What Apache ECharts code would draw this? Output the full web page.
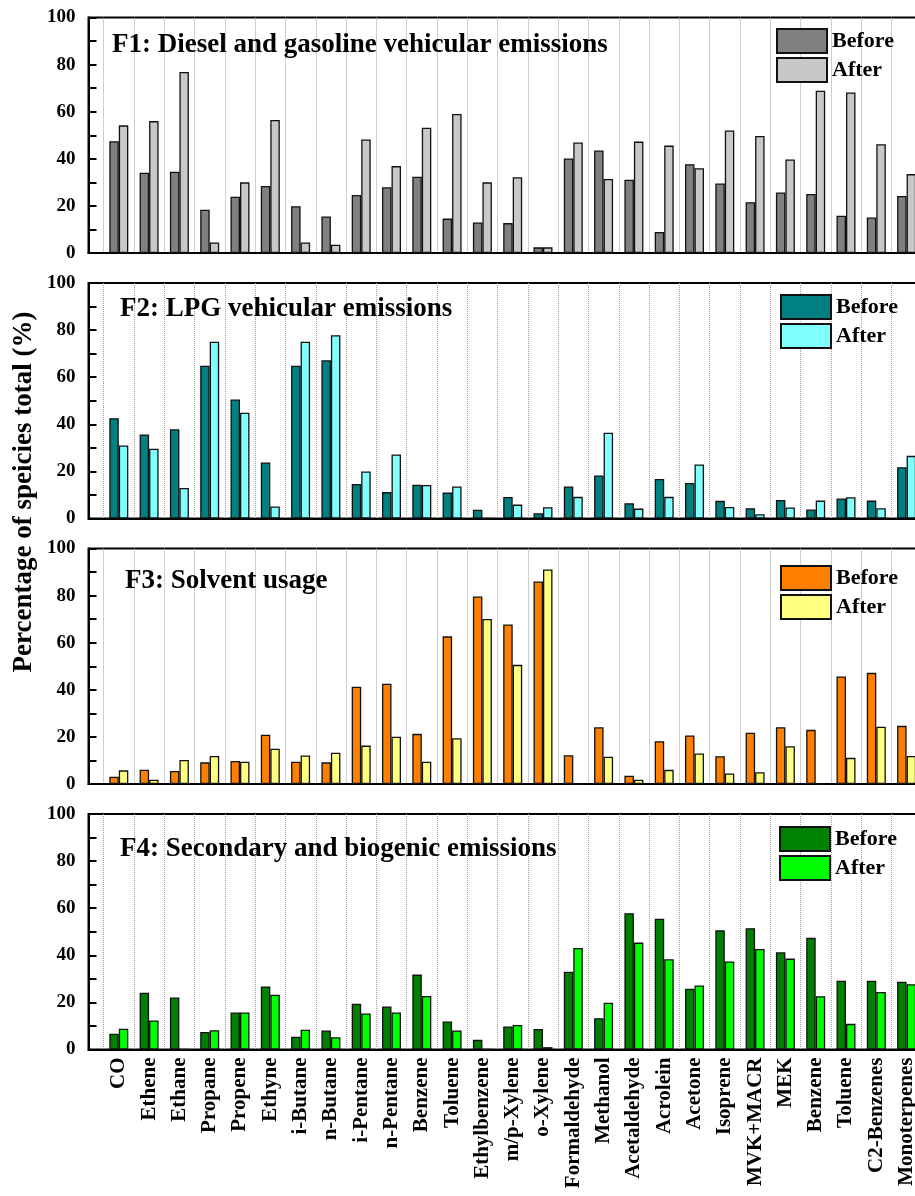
<!DOCTYPE html>
<html>
<head>
<meta charset="utf-8">
<script src="https://cdn.jsdelivr.net/npm/echarts@6/dist/echarts.min.js"></script>
<style>
html,body{margin:0;padding:0;background:#fff;}
#chart{width:915px;height:1196px;}
</style>
</head>
<body>
<div id="chart"></div>
<script>
const categories = ['CO','Ethene','Ethane','Propane','Propene','Ethyne','i-Butane','n-Butane','i-Pentane','n-Pentane','Benzene','Toluene','Ethylbenzene','m/p-Xylene','o-Xylene','Formaldehyde','Methanol','Acetaldehyde','Acrolein','Acetone','Isoprene','MVK+MACR','MEK','Benzene','Toluene','C2-Benzenes','Monoterpenes'];

const panelTitles = ['F1: Diesel and gasoline vehicular emissions','F2: LPG vehicular emissions','F3: Solvent usage','F4: Secondary and biogenic emissions'];
const seriesNames = ['Before','After'];
const yAxisTitle = 'Percentage of speicies total (%)';

const f1Before = [47.5,34.1,34.5,18.4,23.9,28.5,19.9,15.5,24.6,27.9,32.4,14.6,13.0,12.7,2.4,40.1,43.5,31.1,8.9,37.7,29.5,21.6,25.7,25.1,15.8,15.1,24.2];
const f1After  = [54.2,56.0,76.9,4.5,30.0,56.5,4.5,3.5,48.2,36.9,53.2,59.0,30.0,32.2,2.4,46.9,31.4,47.3,45.6,36.0,52.0,49.7,39.7,68.9,68.2,46.2,33.5];

const f2Before = [42.6,35.7,37.9,64.9,50.5,23.8,64.9,67.2,14.7,11.2,14.3,11.0,3.7,9.1,2.2,13.6,18.3,6.5,16.8,15.1,7.5,4.4,7.9,3.8,8.5,7.6,21.8];
const f2After  = [31.0,29.6,13.0,75.1,44.9,5.1,75.1,77.8,20.0,27.2,14.2,13.6,0,5.9,4.8,9.2,36.4,4.2,9.2,22.9,4.9,1.8,4.7,7.6,9.0,4.4,26.6];

const f3Before = [3.1,6.1,5.5,9.2,9.8,20.9,9.5,9.2,41.3,42.6,21.3,62.7,79.6,67.7,86.0,12.2,24.1,3.5,18.2,20.6,11.8,21.8,24.1,23.0,45.7,47.2,24.7];
const f3After  = [5.8,1.8,10.2,11.9,9.5,15.0,12.1,13.3,16.3,20.1,9.5,19.4,70.1,50.6,91.1,0,11.6,1.8,6.0,13.0,4.5,5.0,16.0,0,11.1,24.3,11.9];

const f4Before = [6.7,24.1,22.1,7.4,15.7,26.8,5.4,8.1,19.4,18.3,31.8,11.9,4.1,9.8,8.7,33.0,13.3,57.9,55.5,25.8,50.6,51.5,41.3,47.4,29.2,29.2,28.8];
const f4After  = [8.8,12.3,0,8.2,15.7,23.3,8.4,5.2,15.3,15.7,22.7,8.1,0,10.4,1.0,43.1,19.9,45.4,38.3,27.2,37.4,42.7,38.6,22.6,10.9,24.4,27.7];

const panelData = [[f1Before,f1After],[f2Before,f2After],[f3Before,f3After],[f4Before,f4After]];
const panelColors = [['#808080','#C8C8C8'],['#008080','#80FFFF'],['#FF8000','#FFFF80'],['#008000','#00FF00']];

const FONT = "'Liberation Serif','Times New Roman',serif";
const catW = 30.3;
const gridLeft = 88.5;
const gridTops = [17.5, 283, 548.5, 814];
const gridH = 235.5;
const legendTops = [28, 294, 565, 826];
const legendLefts = [776, 780, 780, 779];
const titleTops = [32, 296, 568, 836];
const titleLefts = [112, 120, 125, 120];

// padded category list: one empty slot each side
const xCats = [''].concat(categories, ['']);
// helper half-step slots for boundary dotted lines
const halfSlots = [];
for (let i = 0; i <= 2 * (xCats.length - 1); i++) halfSlots.push(String(i));

const grid = [], xAxis = [], yAxis = [], series = [], legend = [], title = [];
for (let p = 0; p < 4; p++) {
  grid.push({left: gridLeft, top: gridTops[p], width: catW * (xCats.length - 1), height: gridH,
    outerBoundsMode: 'none', containLabel: false,
    show: true, borderColor: '#000', borderWidth: 2, backgroundColor: 'transparent'});
  xAxis.push({
    type: 'category', gridIndex: p, data: xCats, boundaryGap: false, position: 'bottom',
    axisLine: {show: true, lineStyle: {color: '#000', width: 2}},
    axisTick: {show: false},
    splitLine: {show: false},
    axisLabel: p === 3 ? {show: true, interval: 0, rotate: 90, margin: 8, color: '#000',
      fontFamily: FONT, fontWeight: 'bold', fontSize: 21} : {show: false}
  });
  xAxis.push({
    type: 'category', gridIndex: p, data: halfSlots, boundaryGap: false, position: 'top',
    axisLine: {show: false}, axisTick: {show: false}, axisLabel: {show: false},
    splitLine: {show: true, interval: function (i) { return i % 2 === 1; },
      lineStyle: {color: '#a0a0a0', type: 'dotted', width: 1}}
  });
  yAxis.push({
    type: 'value', gridIndex: p, min: 0, max: 100, interval: 20,
    axisLine: {show: true, lineStyle: {color: '#000', width: 2}},
    axisTick: {show: true, inside: true, length: 8, lineStyle: {color: '#000', width: 2}},
    minorTick: {show: true, splitNumber: 2, length: 8, lineStyle: {color: '#000', width: 2}},
    splitLine: {show: false},
    axisLabel: {margin: 13, color: '#000', fontFamily: FONT, fontWeight: 'bold', fontSize: 19}
  });
  for (let s = 0; s < 2; s++) {
    series.push({
      type: 'bar', name: 'F' + (p + 1) + '|' + seriesNames[s],
      xAxisIndex: 2 * p, yAxisIndex: p,
      data: ['-'].concat(panelData[p][s], ['-']),
      barWidth: 9.5, barGap: '0%',
      itemStyle: {color: panelColors[p][s], borderColor: '#111', borderWidth: 1.3},
      emphasis: {disabled: true}
    });
  }
  legend.push({
    orient: 'vertical', left: legendLefts[p], top: legendTops[p], padding: 0,
    itemWidth: 50, itemHeight: 24, itemGap: 3, icon: 'rect',
    data: seriesNames.map(n => 'F' + (p + 1) + '|' + n),
    formatter: function (name) { return name.split('|')[1]; },
    textStyle: {color: '#000', fontFamily: FONT, fontWeight: 'bold', fontSize: 22, padding: [0,0,0,0]},
    selectedMode: false
  });
  title.push({
    text: panelTitles[p], left: titleLefts[p], top: titleTops[p], padding: 0,
    textStyle: {color: '#000', fontFamily: FONT, fontWeight: 'bold', fontSize: 27}
  });
}

const chart = echarts.init(document.getElementById('chart'), null, {renderer: 'canvas'});
chart.setOption({
  animation: false,
  backgroundColor: '#fff',
  title: title,
  legend: legend,
  grid: grid,
  xAxis: xAxis,
  yAxis: yAxis,
  series: series,
  graphic: [{
    type: 'text', x: 24, y: 492, rotation: Math.PI / 2,
    style: {text: yAxisTitle, fill: '#000', font: 'bold 27px ' + FONT,
      textAlign: 'center', textVerticalAlign: 'middle'}
  }]
});
</script>
</body>
</html>
